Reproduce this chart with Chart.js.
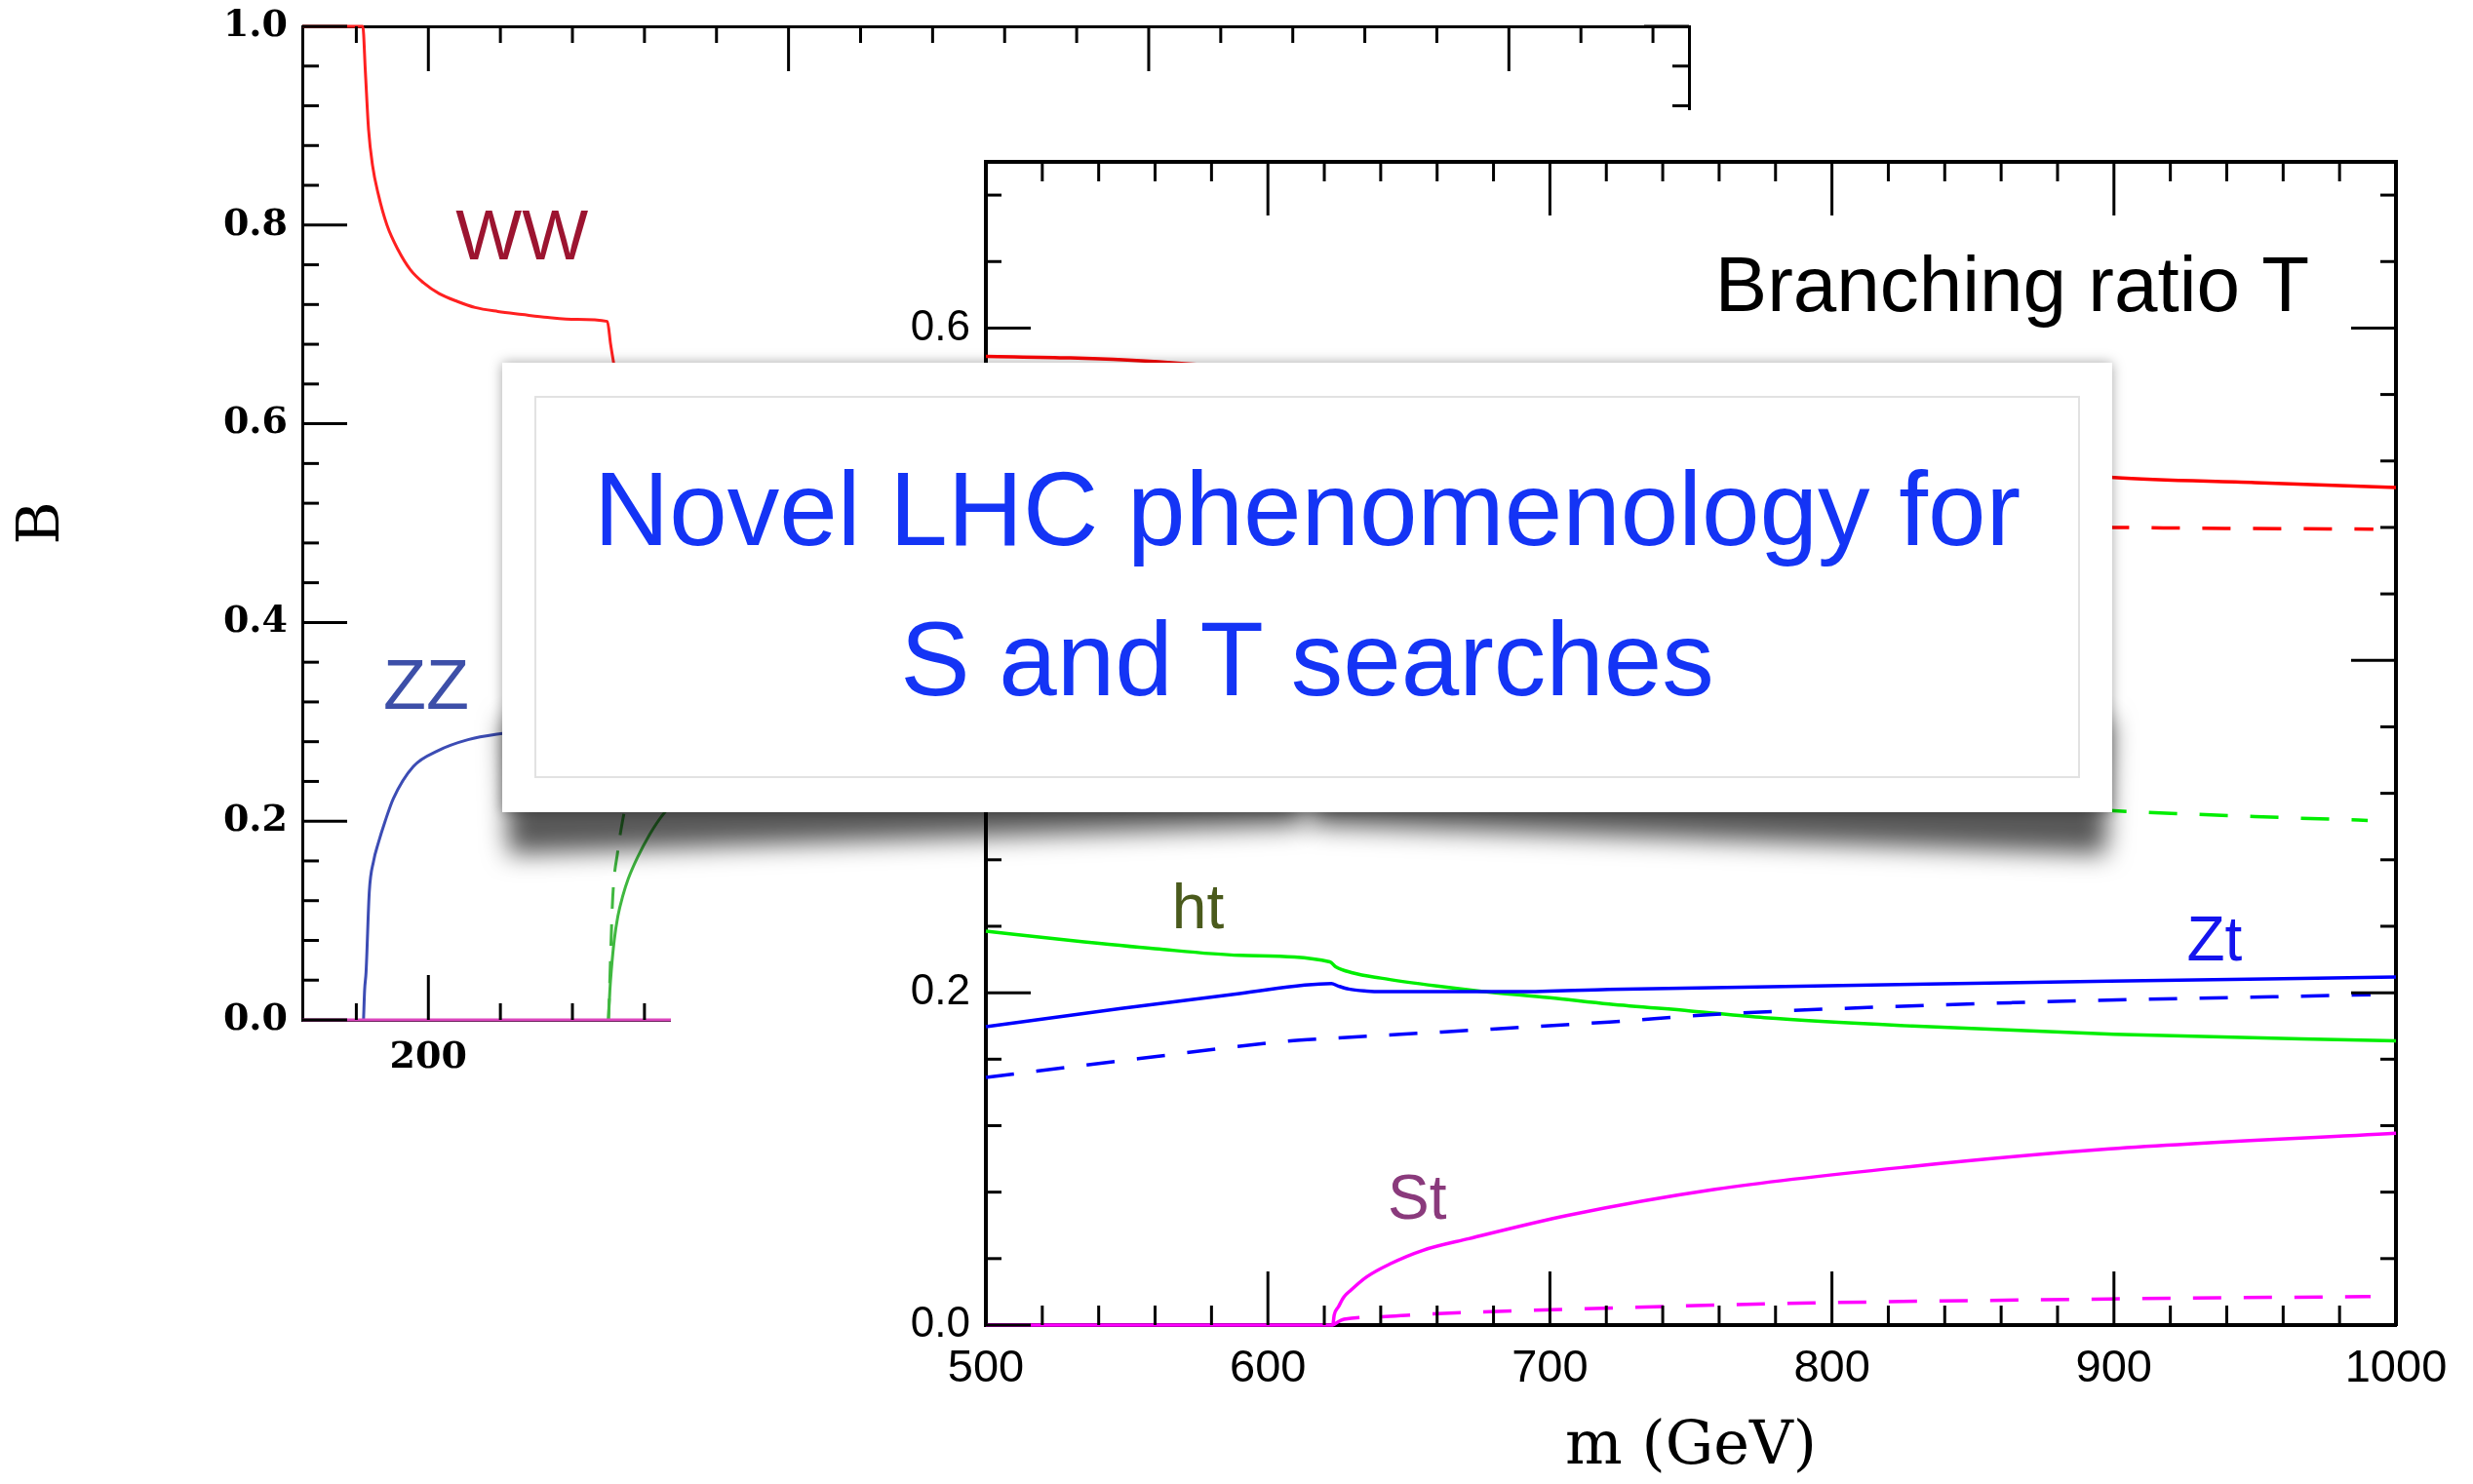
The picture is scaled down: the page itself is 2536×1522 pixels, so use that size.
<!DOCTYPE html>
<html lang="en">
<head>
<meta charset="UTF-8">
<title>Novel LHC phenomenology for S and T searches</title>
<script src="https://cdn.jsdelivr.net/npm/chart.js"></script>
<style>
    html, body { margin: 0; padding: 0; background: #fff; width: 2536px; height: 1522px; overflow: hidden; }
    #left { position: absolute; left: 0; top: -13px; z-index: 1; }
    #right { position: absolute; left: 688px; top: 113px; z-index: 2; background: #fff; }
    #card { position: absolute; left: 515px; top: 372px; width: 1651px; height: 461px; z-index: 3; }
    .box { position: relative; width: 100%; height: 100%; background: #fff; box-shadow: 0 0 12px rgba(0,0,0,0.35); }
    .box:before, .box:after {
        content: ""; position: absolute; z-index: -1; bottom: 18px; width: 49.5%; height: 30%;
        box-shadow: 0 46px 26px rgba(0,0,0,0.66);
    }
    .box:before { left: 2px; transform: rotate(-2.1deg); }
    .box:after { right: 2px; transform: rotate(2.1deg); }
    .inner { position: absolute; left: 33px; top: 34px; right: 33px; bottom: 35px; border: 2px solid #e2e2e2; }
    .title { position: absolute; left: 0; right: 0; top: 74px; text-align: center;
             font: 107px/153.6px "Liberation Sans", sans-serif; color: #1434f5; }
</style>
</head>
<body>

<canvas id="left" width="2536" height="1535"></canvas>
<canvas id="right" width="1848" height="1409"></canvas>
<div id="card"><div class="box"><div class="inner"></div>
    <div class="title">Novel LHC phenomenology for<br>S and T searches</div></div></div>

<script>
// left panel: S branching ratios vs m (GeV)
const sMassWW = [165, 181.8, 182.5, 183.4, 184.5, 186.1, 188.5, 191.6, 195, 198.6, 203, 208.1, 213, 219.3, 226, 233.1, 241, 249.7, 250.6, 251.5, 253];
const sBrWW   = [1.0, 1.0, 0.955, 0.896, 0.86, 0.831, 0.80, 0.775, 0.755, 0.742, 0.731, 0.723, 0.717, 0.713, 0.710, 0.707, 0.705, 0.703, 0.68, 0.66, 0.63];
const sMassZZ = [182, 182.3, 182.7, 183.6, 184.8, 186.1, 188, 190.3, 195.8, 202.7, 211, 220, 230];
const sBrZZ   = [0, 0.03, 0.048, 0.129, 0.16, 0.178, 0.2, 0.223, 0.255, 0.271, 0.282, 0.288, 0.292];
const sMassHH = [250, 250.4, 250.8, 251.6, 252.6, 254, 255.5, 258, 261.5, 265.2, 270];
const sBrHH   = [0, 0.03, 0.05, 0.08, 0.104, 0.125, 0.142, 0.163, 0.187, 0.207, 0.225];
const sMassHHd = [250, 250.3, 250.6, 251.2, 252.6, 254, 256];
const sBrHHd   = [0, 0.03, 0.065, 0.124, 0.17, 0.202, 0.235];
const sMassTT = [165, 550];
const sBrTT   = [0, 0];

// right panel: T branching ratios vs m (GeV)
const tMassWt  = [500, 530, 558, 590, 622, 650, 700, 800, 900, 950, 1000];
const tBrWt    = [0.583, 0.582, 0.580, 0.576, 0.571, 0.560, 0.546, 0.527, 0.510, 0.507, 0.504];
const tMassWtD = [500, 700, 900, 992];
const tBrWtD   = [0.50, 0.486, 0.480, 0.479];
const tMassHt  = [500, 530, 560, 590, 622, 624, 630, 640, 660, 675, 700, 721, 750, 776, 828.5, 900, 1000];
const tBrHt    = [0.237, 0.2315, 0.2265, 0.2225, 0.2186, 0.2157, 0.212, 0.2088, 0.204, 0.201, 0.197, 0.1932, 0.189, 0.185, 0.180, 0.175, 0.171];
const tMassHtD = [500, 700, 900, 950, 990];
const tBrHtD   = [0.36, 0.33, 0.3095, 0.306, 0.3037];
const tMassZt  = [500, 548, 590, 622.5, 625, 628.7, 635, 640, 689, 721, 793.5, 898.7, 1000];
const tBrZt    = [0.1795, 0.1905, 0.1995, 0.2055, 0.204, 0.2022, 0.2010, 0.2006, 0.2006, 0.202, 0.204, 0.207, 0.2094];
const tMassZtD = [500, 554, 606, 622, 663, 721, 759, 864, 991];
const tBrZtD   = [0.149, 0.1603, 0.1707, 0.1725, 0.1765, 0.1824, 0.187, 0.194, 0.1988];
const tMassSt  = [500, 623, 623.5, 625, 627, 629.4, 635, 643.3, 655, 671.3, 706.3, 758.6, 828.6, 898.5, 1000];
const tBrSt    = [0, 0, 0.006, 0.011, 0.017, 0.021, 0.029, 0.0368, 0.045, 0.052, 0.066, 0.0817, 0.0955, 0.106, 0.1154];
const tMassStD = [623, 627, 640, 654, 724, 793.5, 898.5, 991];
const tBrStD   = [0, 0.0035, 0.005, 0.0064, 0.0104, 0.0133, 0.0157, 0.0172];

// curve labels, placed in data coordinates (left end, baseline)
const sLabels = [
    { text: 'WW', x: 207.6, y: 0.765, color: '#9c1430', font: '72px "Liberation Sans"' },
    { text: 'ZZ', x: 187.5, y: 0.313, color: '#3d4fa8', font: '72px "Liberation Sans"' }
];
const tLabels = [
    { text: 'ht', x: 566, y: 0.239, color: '#4a5a1c', font: '64px "Liberation Sans"' },
    { text: 'Zt', x: 925.8, y: 0.2196, color: '#1414ee', font: '64px "Liberation Sans"' },
    { text: 'St', x: 642.5, y: 0.064, color: '#8a3a7c', font: '64px "Liberation Sans"' },
    { text: 'Branching ratio T', x: 758.6, y: 0.61, color: '#000', font: '80px "Liberation Sans"' }
];

function isMajor(v, step) {
    const r = v / step;
    return Math.abs(r - Math.round(r)) < 1e-6;
}

function series(xs, ys, color, width, dash) {
    return {
        data: xs.map((x, i) => ({ x: x, y: ys[i] })),
        borderColor: color, borderWidth: width, borderDash: dash || [],
        pointRadius: 0, fill: false, cubicInterpolationMode: 'monotone', clip: 6
    };
}

// tick marks pointing into the plot, long on majors
const inwardTicks = {
    id: 'inwardTicks',
    afterDraw(chart, args, opts) {
        const ctx = chart.ctx, a = chart.chartArea;
        ctx.save();
        ctx.strokeStyle = '#000';
        ctx.lineWidth = opts.width;
        for (const id in chart.scales) {
            const s = chart.scales[id];
            const len = s.axis === 'x' ? opts.xLen : opts.yLen;
            const step = s.axis === 'x' ? opts.xMajor : opts.yMajor;
            s.ticks.forEach(t => {
                const L = isMajor(t.value, step) ? len[0] : len[1];
                const p = s.getPixelForValue(t.value);
                ctx.beginPath();
                if (s.position === 'bottom') { ctx.moveTo(p, a.bottom); ctx.lineTo(p, a.bottom - L); }
                else if (s.position === 'top') { ctx.moveTo(p, a.top); ctx.lineTo(p, a.top + L); }
                else if (s.position === 'left') { ctx.moveTo(a.left, p); ctx.lineTo(a.left + L, p); }
                else { ctx.moveTo(a.right, p); ctx.lineTo(a.right - L, p); }
                ctx.stroke();
            });
        }
        ctx.restore();
    }
};

const textMarks = {
    id: 'textMarks',
    afterDatasetsDraw(chart, args, opts) {
        const ctx = chart.ctx, x = chart.scales.x, y = chart.scales.y;
        ctx.save();
        ctx.textAlign = 'left';
        ctx.textBaseline = 'alphabetic';
        opts.items.forEach(l => {
            ctx.font = l.font;
            ctx.fillStyle = l.color;
            ctx.fillText(l.text, x.getPixelForValue(l.x), y.getPixelForValue(l.y));
        });
        ctx.restore();
    }
};

function axis(pos, min, max, step, lineW, size, extra) {
    const cfg = {
        type: 'linear', position: pos, min: min, max: max,
        grid: { display: false, drawTicks: false },
        border: { display: true, color: '#000', width: lineW },
        ticks: { stepSize: step, includeBounds: false, autoSkip: false, maxRotation: 0, minRotation: 0, display: false },
        afterFit: s => { if (s.isHorizontal()) s.height = size; else s.width = size; }
    };
    return Object.assign(cfg, extra || {});
}

function labelTicks(cfg, font, pad, cb) {
    Object.assign(cfg.ticks, { display: true, color: '#000', padding: pad, font: font, callback: cb });
    return cfg;
}

const common = {
    responsive: false, animation: false, events: [],
    layout: { padding: 0 }
};

const leftFont = { family: 'DejaVu Serif', size: 38, weight: 'bold' };
new Chart(document.getElementById('left'), {
    type: 'line',
    data: { datasets: [
        series(sMassTT, sBrTT, '#dc46be', 3),
        series(sMassWW, sBrWW, '#ff2020', 3),
        series(sMassZZ, sBrZZ, '#3c4cb4', 3),
        series(sMassHH, sBrHH, '#40b840', 3),
        series(sMassHHd, sBrHHd, '#40b840', 3, [22, 16])
    ]},
    options: Object.assign({}, common, {
        plugins: {
            legend: { display: false }, tooltip: { enabled: false },
            inwardTicks: { width: 3, xMajor: 100, yMajor: 0.2, xLen: [46, 17], yLen: [46, 17] },
            textMarks: { items: sLabels }
        },
        scales: {
            x: labelTicks(axis('bottom', 165, 550, 20, 3, 476), leftFont, 16,
                v => isMajor(v, 100) ? String(v) : ''),
            x2: axis('top', 165, 550, 20, 3, 40),
            y: labelTicks(axis('left', 0, 1, 0.04, 3, 310, {
                    title: { display: true, text: 'B', color: '#000', padding: 8, font: { family: 'DejaVu Serif', size: 60 } }
                }), leftFont, 15,
                v => isMajor(v, 0.2) ? v.toFixed(1) : ''),
            y2: axis('right', 0, 1, 0.04, 3, 804)
        }
    }),
    plugins: [inwardTicks, textMarks]
});

const dash = [29, 23];
new Chart(document.getElementById('right'), {
    type: 'line',
    data: { datasets: [
        series(tMassSt, tBrSt, '#ff00ff', 3.5),
        series(tMassStD, tBrStD, '#ff00ff', 3.5, dash),
        series(tMassWt, tBrWt, '#ff0000', 3.5),
        series(tMassWtD, tBrWtD, '#ff0000', 3.5, dash),
        series(tMassZt, tBrZt, '#0000ff', 3.5),
        series(tMassZtD, tBrZtD, '#0000ff', 3.5, dash),
        series(tMassHt, tBrHt, '#00ee00', 3.5),
        series(tMassHtD, tBrHtD, '#00ee00', 3.5, dash)
    ]},
    options: Object.assign({}, common, {
        plugins: {
            legend: { display: false }, tooltip: { enabled: false },
            inwardTicks: { width: 3, xMajor: 100, yMajor: 0.2, xLen: [55, 20], yLen: [46, 16] },
            textMarks: { items: tLabels }
        },
        scales: {
            x: labelTicks(axis('bottom', 500, 1000, 20, 4, 163, {
                    title: { display: true, text: 'm (GeV)', color: '#000', padding: 0, font: { family: 'DejaVu Serif', size: 62 } }
                }), { family: 'Liberation Sans', size: 47 }, 17,
                v => isMajor(v, 100) ? String(v) : ''),
            x2: axis('top', 500, 1000, 20, 4, 53),
            y: labelTicks(axis('left', 0, 0.7, 0.04, 4, 323), { family: 'Liberation Sans', size: 44 }, 16,
                v => isMajor(v, 0.2) ? v.toFixed(1) : ''),
            y2: axis('right', 0, 0.7, 0.04, 4, 79)
        }
    }),
    plugins: [inwardTicks, textMarks]
});
</script>
</body>
</html>
